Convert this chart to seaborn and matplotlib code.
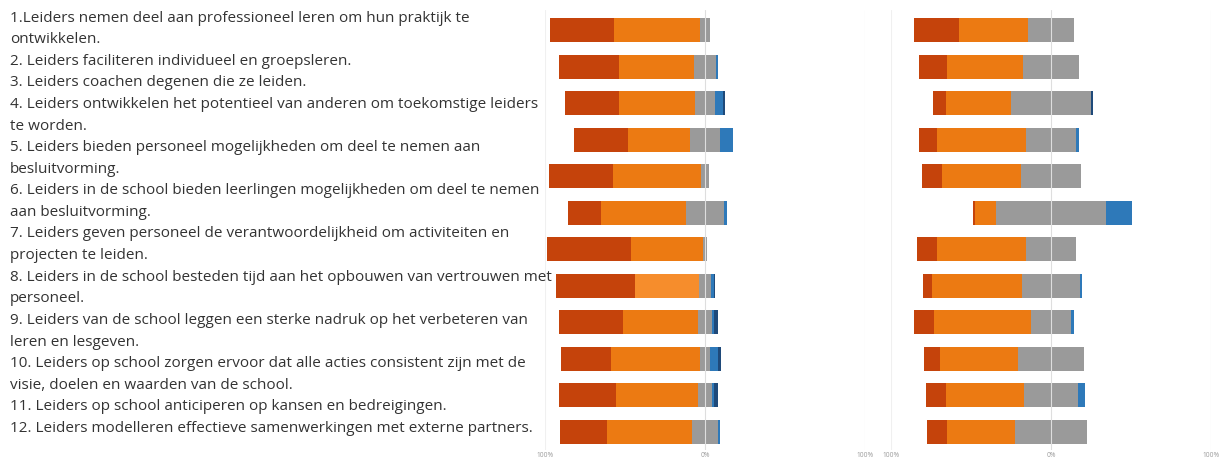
import matplotlib
matplotlib.use("Agg")
import matplotlib.pyplot as plt
import numpy as np
import pandas as pd
import seaborn as sns

# ---------------- data ----------------
labels = [
    "1.Leiders nemen deel aan professioneel leren om hun praktijk te\nontwikkelen.",
    "2. Leiders faciliteren individueel en groepsleren.",
    "3. Leiders coachen degenen die ze leiden.",
    "4. Leiders ontwikkelen het potentieel van anderen om toekomstige leiders\nte worden.",
    "5. Leiders bieden personeel mogelijkheden om deel te nemen aan\nbesluitvorming.",
    "6. Leiders in de school bieden leerlingen mogelijkheden om deel te nemen\naan besluitvorming.",
    "7. Leiders geven personeel de verantwoordelijkheid om activiteiten en\nprojecten te leiden.",
    "8. Leiders in de school besteden tijd aan het opbouwen van vertrouwen met\npersoneel.",
    "9. Leiders van de school leggen een sterke nadruk op het verbeteren van\nleren en lesgeven.",
    "10. Leiders op school zorgen ervoor dat alle acties consistent zijn met de\nvisie, doelen en waarden van de school.",
    "11. Leiders op school anticiperen op kansen en bedreigingen.",
    "12. Leiders modelleren effectieve samenwerkingen met externe partners.",
]
items = [f"Q{i + 1}" for i in range(12)]

# left panel (%)
left_strongly_agree = [39.6, 37.5, 33.5, 33.8, 39.8, 20.6, 52.7, 48.8, 39.8, 31.4, 35.6, 29.4]
left_agree = [54.2, 46.9, 47.8, 38.8, 55.0, 53.3, 45.2, 40.4, 46.9, 55.6, 51.4, 53.1]
left_neutral = [5.8, 13.4, 12.5, 18.8, 4.8, 23.9, 2.1, 7.3, 8.8, 6.3, 8.4, 16.6]
left_disagree = [0.0, 1.6, 4.8, 8.4, 0.0, 1.7, 0.0, 2.0, 1.5, 4.8, 1.6, 0.9]
left_strongly_disagree = [0.0, 0.0, 1.5, 0.0, 0.0, 0.0, 0.0, 0.7, 2.5, 1.9, 2.1, 0.0]

# right panel (%)
right_strongly_agree = [27.7, 17.1, 8.1, 11.3, 12.8, 1.5, 12.5, 5.8, 12.5, 10.0, 12.5, 12.5]
right_agree = [43.1, 47.5, 40.9, 55.9, 48.9, 13.1, 55.9, 56.3, 60.4, 48.9, 48.9, 42.9]
right_neutral = [29.2, 35.6, 49.4, 30.8, 38.1, 68.8, 31.3, 36.1, 25.4, 40.9, 33.9, 44.4]
right_disagree = [0.0, 0.0, 0.0, 2.1, 0.0, 16.3, 0.0, 1.4, 1.7, 0.0, 4.6, 0.0]
right_strongly_disagree = [0.0, 0.0, 1.3, 0.0, 0.0, 0.0, 0.0, 0.0, 0.0, 0.0, 0.0, 0.0]

tick_values = [-100, 0, 100]
tick_labels = ["100%", "0%", "100%"]
highlight_left_item = "Q8"   # lighter orange in the left panel

# ---------------- style ----------------
sns.set_theme(style="white")
plt.rcParams["font.family"] = ["Open Sans", "DejaVu Sans"]

C_SA = "#C5430B"
C_A = "#EC7A12"
C_A_HI = "#F68D2C"
C_N = "#9A9A9A"
C_D = "#2E79B9"
C_SD = "#1F4A7A"

W, H = 1228, 459
fig = plt.figure(figsize=(W / 100, H / 100), dpi=100)
fig.patch.set_facecolor("white")


def rect(x0, x1, y0, y1):
    return [x0 / W, 1 - y1 / H, (x1 - x0) / W, (y1 - y0) / H]


axL = fig.add_axes(rect(545, 865, 10, 450))
axR = fig.add_axes(rect(891, 1211, 10, 450))


def draw_panel(ax, sa, a, n, d, sd, highlight=None):
    sa, a, n, d, sd = map(np.asarray, (sa, a, n, d, sd))
    agree_cols = [C_A_HI if it == highlight else C_A for it in items]
    layers = [
        (-(n / 2 + a + sa), [C_SA] * 12),
        (-(n / 2 + a), agree_cols),
        (-(n / 2), [C_N] * 12),
        (n / 2 + d + sd, [C_SD] * 12),
        (n / 2 + d, [C_D] * 12),
        (n / 2, [C_N] * 12),
    ]
    for vals, cols in layers:
        df = pd.DataFrame({"item": items, "value": vals})
        sns.barplot(data=df, x="value", y="item", hue="item", orient="h",
                    palette=cols, legend=False, saturation=1, width=0.66,
                    errorbar=None, ax=ax, linewidth=0, zorder=2)
    ax.axvline(-100, color="#f0f0f0", lw=0.8, zorder=0)
    ax.axvline(100, color="#e8e8e8", lw=0.8, zorder=0)
    ax.axvline(0, color="#dedede", lw=0.8, zorder=3)
    ax.set_xlim(-100, 100)
    ax.set_ylim(11.5, -0.55)
    ax.set_xticks(tick_values)
    ax.set_xticklabels(tick_labels, fontsize=4.8, color="#9a9a9a")
    ax.tick_params(axis="x", length=0, pad=1.5)
    ax.set_yticks([])
    ax.set_xlabel("")
    ax.set_ylabel("")
    for s in ax.spines.values():
        s.set_visible(False)
    ax.set_facecolor("none")


draw_panel(axL, left_strongly_agree, left_agree, left_neutral,
           left_disagree, left_strongly_disagree, highlight=highlight_left_item)
draw_panel(axR, right_strongly_agree, right_agree, right_neutral,
           right_disagree, right_strongly_disagree)

# ---------------- label text block ----------------
lines = []
for lab in labels:
    lines.extend(lab.split("\n"))
y0, dy = 18.0, 21.6
for k, line in enumerate(lines):
    fig.text(10 / W, 1 - (y0 + dy * k) / H, line, ha="left", va="center",
             fontsize=11, color="#333333")

fig.savefig("out.png", dpi=100, facecolor="white")
